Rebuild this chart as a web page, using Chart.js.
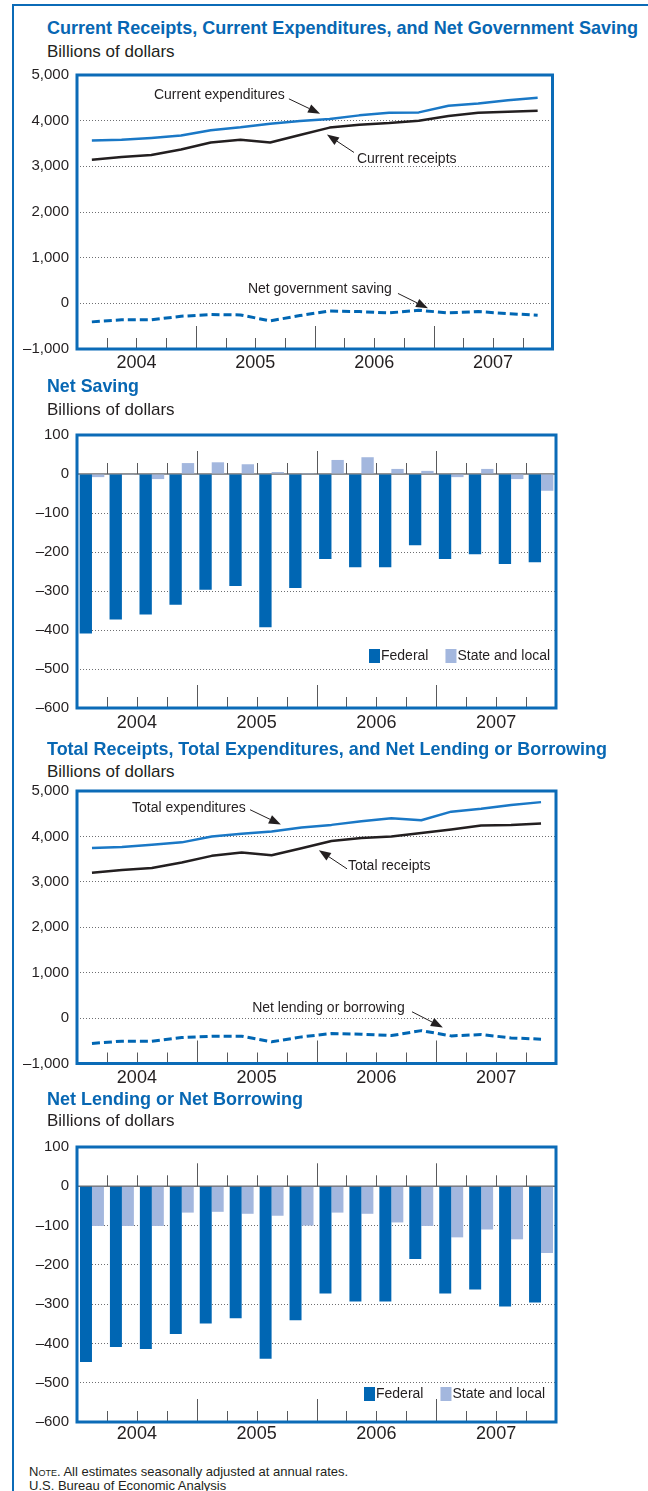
<!DOCTYPE html>
<html><head><meta charset="utf-8">
<script src="https://cdn.jsdelivr.net/npm/chart.js@4.4.1/dist/chart.umd.min.js"></script>
<style>
html,body{margin:0;padding:0;background:#fff;}
body{width:648px;height:1491px;position:relative;overflow:hidden;font-family:"Liberation Sans",Arial,Helvetica,sans-serif;color:#231f20;}
#frame{position:absolute;left:12px;top:4px;width:700px;height:1600px;border-left:2.5px solid #0b6bb7;border-top:2.5px solid #0b6bb7;}
.title{position:absolute;left:47px;font-weight:bold;font-size:19px;line-height:19px;color:#0767b3;white-space:nowrap;transform-origin:0 0;display:inline-block;}
.unit{position:absolute;left:47px;font-size:17px;line-height:17px;white-space:nowrap;}
.note{position:absolute;left:29px;font-size:13px;line-height:13px;white-space:nowrap;}
canvas{position:absolute;left:0;}
</style></head>
<body>
<div id="frame"></div>
<div class="title" style="top:18px" data-w="591">Current Receipts, Current Expenditures, and Net Government Saving</div>
<div class="unit" style="top:43px">Billions of dollars</div>
<canvas id="c1" width="648" height="318" style="top:58px"></canvas>

<div class="title" style="top:376px" data-w="92">Net Saving</div>
<div class="unit" style="top:401px">Billions of dollars</div>
<canvas id="c2" width="648" height="318" style="top:418px"></canvas>

<div class="title" style="top:739px" data-w="560">Total Receipts, Total Expenditures, and Net Lending or Borrowing</div>
<div class="unit" style="top:763px">Billions of dollars</div>
<canvas id="c3" width="648" height="316" style="top:774px"></canvas>

<div class="title" style="top:1089px" data-w="256">Net Lending or Net Borrowing</div>
<div class="unit" style="top:1112px">Billions of dollars</div>
<canvas id="c4" width="648" height="320" style="top:1130px"></canvas>

<div class="note" style="top:1465px"><span style="font-variant:small-caps">Note</span>. All estimates seasonally adjusted at annual rates.</div>
<div class="note" style="top:1479px">U.S. Bureau of Economic Analysis</div>

<script>
// ---------- DATA ----------
const quarters = ['2004 Q1','2004 Q2','2004 Q3','2004 Q4','2005 Q1','2005 Q2','2005 Q3','2005 Q4',
                  '2006 Q1','2006 Q2','2006 Q3','2006 Q4','2007 Q1','2007 Q2','2007 Q3','2007 Q4'];
const years = ['2004','2005','2006','2007'];

const currentReceipts     = [3145, 3203, 3246, 3370, 3522, 3580, 3522, 3688, 3848, 3913, 3949, 4000, 4101, 4174, 4196, 4217];
const currentExpenditures = [3565, 3580, 3623, 3674, 3790, 3855, 3935, 3993, 4036, 4116, 4174, 4181, 4326, 4377, 4449, 4500];
const netGovSaving        = [-406, -362, -362, -283, -246, -254, -384, -268, -167, -181, -210, -152, -210, -181, -225, -261];

const netSavingFederal    = [-409, -373, -360, -335, -297, -287, -393, -292, -218, -239, -239, -183, -218, -206, -231, -226];
const netSavingStateLocal = [-8, -2, -13, 28, 30, 25, 5, 2, 36, 43, 13, 8, -8, 13, -13, -43];

const totalReceipts       = [3201, 3259, 3303, 3426, 3572, 3644, 3586, 3739, 3898, 3964, 4000, 4073, 4153, 4240, 4254, 4283];
const totalExpenditures   = [3746, 3768, 3818, 3869, 4000, 4058, 4109, 4196, 4254, 4334, 4399, 4356, 4545, 4610, 4690, 4755];
const netLending          = [-559, -508, -508, -428, -399, -399, -523, -414, -341, -356, -385, -276, -392, -363, -436, -465];

const lendingFederal      = [-447, -409, -414, -376, -349, -336, -439, -341, -273, -293, -293, -185, -273, -263, -306, -296];
const lendingStateLocal   = [-101, -101, -101, -67, -65, -70, -75, -100, -67, -70, -92, -101, -130, -110, -135, -170];

// ---------- STYLE ----------
const FONT = '"Liberation Sans", Arial, Helvetica, sans-serif';
const INK = '#231f20';
const FRAME_BLUE = '#0b6bb7';
const LINE_BLUE = '#1a78c6';
const FED_BLUE = '#0066b3';
const SL_BLUE = '#a3b7de';

Chart.defaults.font.family = FONT;
Chart.defaults.color = INK;

// scale titles (condensed bold)
document.querySelectorAll('.title').forEach(el => {
  const w = el.getBoundingClientRect().width;
  const t = +el.dataset.w;
  el.style.transform = 'scaleX(' + (t / w) + ')';
});

function fmt(v) {
  const s = Math.abs(v).toLocaleString('en-US');
  return v < 0 ? '\u2013' + s : s;
}

const decor = {
  id: 'decor',
  beforeDatasetsDraw(chart, args, o) {
    if (!o.zeroLine) return;
    const { ctx, chartArea: a, scales: { y } } = chart;
    const y0 = y.getPixelForValue(0);
    ctx.save();
    ctx.strokeStyle = '#6d6e71';
    ctx.lineWidth = 1.5;
    ctx.beginPath(); ctx.moveTo(a.left, y0); ctx.lineTo(a.right, y0); ctx.stroke();
    ctx.restore();
  },
  afterDraw(chart, args, o) {
    const { ctx, chartArea: a, scales: { x, y } } = chart;
    const n = chart.data.labels.length;
    const step = x.getPixelForValue(1) - x.getPixelForValue(0);
    const px = i => x.getPixelForValue(0) + i * step;
    ctx.save();
    // quarter / year tick marks
    const bases = [a.bottom];
    if (o.zeroLine) bases.push(y.getPixelForValue(0));
    ctx.strokeStyle = '#58595b';
    ctx.lineWidth = 1;
    for (let k = 1; k < n; k++) {
      const xk = Math.round((x.getPixelForValue(k - 1) + x.getPixelForValue(k)) / 2) + 0.5;
      const len = (k % 4 === 0) ? 23 : 11;
      bases.forEach(b => {
        ctx.beginPath(); ctx.moveTo(xk, b); ctx.lineTo(xk, b - len); ctx.stroke();
      });
    }
    // year labels
    ctx.fillStyle = INK;
    ctx.font = '18px ' + FONT;
    ctx.textAlign = 'center';
    ctx.textBaseline = 'middle';
    years.forEach((yr, j) => {
      const xc = (x.getPixelForValue(4 * j) + x.getPixelForValue(4 * j + 3)) / 2;
      ctx.fillText(yr, xc, a.bottom + o.yearOffset);
    });
    // plot frame
    ctx.strokeStyle = FRAME_BLUE;
    ctx.lineWidth = 3;
    ctx.strokeRect(a.left, a.top, a.right - a.left, a.bottom - a.top);
    // annotations
    ctx.font = '14px ' + FONT;
    ctx.textAlign = 'left';
    ctx.textBaseline = 'middle';
    ctx.fillStyle = INK;
    ctx.strokeStyle = INK;
    (o.annotations || []).forEach(an => {
      ctx.fillText(an.text, px(an.at[0]), y.getPixelForValue(an.at[1]));
      const x1 = px(an.from[0]), y1 = y.getPixelForValue(an.from[1]);
      const x2 = px(an.to[0]), y2 = y.getPixelForValue(an.to[1]);
      const ang = Math.atan2(y2 - y1, x2 - x1);
      const hl = 12, hw = 4.5;
      const bx = x2 - hl * Math.cos(ang), by = y2 - hl * Math.sin(ang);
      ctx.lineWidth = 1;
      ctx.beginPath(); ctx.moveTo(x1, y1); ctx.lineTo(bx, by); ctx.stroke();
      ctx.beginPath();
      ctx.moveTo(x2, y2);
      ctx.lineTo(bx + hw * Math.sin(ang), by - hw * Math.cos(ang));
      ctx.lineTo(bx - hw * Math.sin(ang), by + hw * Math.cos(ang));
      ctx.closePath(); ctx.fill();
    });
    // legend
    if (o.legend) {
      let lx = a.right - o.legend.fromRight;
      const cy = a.bottom - o.legend.fromBottom;
      ctx.font = '14px ' + FONT;
      chart.data.datasets.forEach(ds => {
        ctx.fillStyle = ds.backgroundColor;
        ctx.fillRect(lx, cy - 7, 11, 14);
        ctx.fillStyle = INK;
        ctx.fillText(ds.label, lx + 12, cy + 0.5);
        lx += 12 + ctx.measureText(ds.label).width + 17;
      });
    }
    ctx.restore();
  }
};

function yScale(min, max, step, padTop) {
  return {
    min, max,
    afterFit: s => { s.width = 77; },
    ticks: { stepSize: step, padding: 8, color: INK, font: { size: 15, family: FONT }, callback: v => fmt(v) },
    grid: {
      drawTicks: false,
      lineWidth: 1,
      color: ctx => {
        const v = ctx.tick ? ctx.tick.value : null;
        if (v === min || v === max) return 'rgba(0,0,0,0)';
        if (padTop && v === 0) return 'rgba(0,0,0,0)';
        return '#6d6e71';
      }
    },
    border: { display: false, dash: [1, 2] }
  };
}

function xScale(h) {
  return {
    type: 'category',
    offset: true,
    afterFit: s => { s.height = h; },
    ticks: { display: false },
    grid: { display: false, offset: true },
    border: { display: false }
  };
}

function lineChart(id, top, bottom, right, sets, annotations, yearOffset) {
  const cv = document.getElementById(id);
  return new Chart(cv, {
    type: 'line',
    data: {
      labels: quarters,
      datasets: sets.map(s => ({
        label: s.label, data: s.data, borderColor: s.color, borderWidth: s.width || 2.5,
        borderDash: s.dash || [], pointRadius: 0, tension: 0, fill: false,
        borderCapStyle: 'butt', borderJoinStyle: 'round'
      }))
    },
    options: {
      responsive: false, animation: false, devicePixelRatio: 1,
      layout: { padding: { top: top, right: 648 - right, bottom: 0, left: 0 } },
      plugins: { legend: { display: false }, tooltip: { enabled: false },
        decor: { zeroLine: false, annotations, yearOffset } },
      scales: { x: xScale(cv.height - bottom), y: yScale(-1000, 5000, 1000, false) }
    },
    plugins: [decor]
  });
}

function barChart(id, top, bottom, right, fed, sl, legend, yearOffset, catPct) {
  const cv = document.getElementById(id);
  return new Chart(cv, {
    type: 'bar',
    data: {
      labels: quarters,
      datasets: [
        { label: 'Federal', data: fed, backgroundColor: FED_BLUE, borderWidth: 0 },
        { label: 'State and local', data: sl, backgroundColor: SL_BLUE, borderWidth: 0 }
      ]
    },
    options: {
      responsive: false, animation: false, devicePixelRatio: 1,
      datasets: { bar: { categoryPercentage: catPct, barPercentage: 1.0 } },
      layout: { padding: { top: top, right: 648 - right, bottom: 0, left: 0 } },
      plugins: { legend: { display: false }, tooltip: { enabled: false },
        decor: { zeroLine: true, legend, yearOffset } },
      scales: { x: xScale(cv.height - bottom), y: yScale(-600, 100, 100, true) }
    },
    plugins: [decor]
  });
}

// chart 1 : canvas top 58 -> plot 73..349
lineChart('c1', 15, 291, 552.5, [
  { label: 'Current expenditures', data: currentExpenditures, color: LINE_BLUE },
  { label: 'Current receipts', data: currentReceipts, color: INK },
  { label: 'Net government saving', data: netGovSaving, color: FED_BLUE, dash: [8, 4], width: 3 }
], [
  { text: 'Current expenditures', at: [2.09, 4565], from: [6.63, 4478], to: [7.68, 4152] },
  { text: 'Current receipts', at: [8.92, 3152], from: [8.82, 3304], to: [7.91, 3696] },
  { text: 'Net government saving', at: [5.25, 304], from: [10.30, 217], to: [11.31, -109] }
], 14);

// chart 2 : canvas top 418 -> plot 431.5..708
barChart('c2', 13.5, 290, 556, netSavingFederal, netSavingStateLocal,
  { fromRight: 187, fromBottom: 52 }, 15, 0.825);

// chart 3 : canvas top 774 -> plot 787..1063.5
lineChart('c3', 13, 289.5, 556, [
  { label: 'Total expenditures', data: totalExpenditures, color: LINE_BLUE },
  { label: 'Total receipts', data: totalReceipts, color: INK },
  { label: 'Net lending or borrowing', data: netLending, color: FED_BLUE, dash: [8, 4], width: 3 }
], [
  { text: 'Total expenditures', at: [1.34, 4631], from: [5.28, 4588], to: [6.31, 4262] },
  { text: 'Total receipts', at: [8.55, 3351], from: [8.52, 3286], to: [7.58, 3698] },
  { text: 'Net lending or borrowing', at: [5.35, 226], from: [10.69, 139], to: [11.72, -208] }
], 14.5);

// chart 4 : canvas top 1130 -> plot 1143.5..1422
barChart('c4', 13.5, 292, 556, lendingFederal, lendingStateLocal,
  { fromRight: 192, fromBottom: 28 }, 12.5, 0.8);
</script>
</body></html>
